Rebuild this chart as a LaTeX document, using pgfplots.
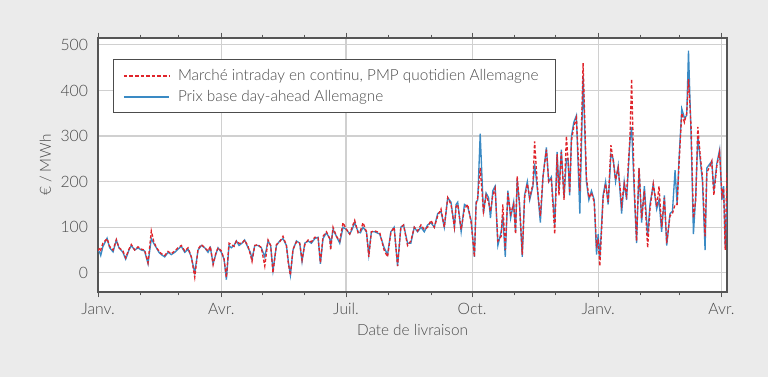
\documentclass[border=0pt]{standalone}
\usepackage{pgfplots}
\usepackage{pgfplotstable}
\pgfplotsset{compat=1.18}
\usepackage{fontspec}
\setmainfont{Lato}[UprightFont={* Light}]
\definecolor{bgcol}{HTML}{EBEBEB}
\definecolor{txtcol}{HTML}{4A4A4A}
\definecolor{axcol}{HTML}{555555}
\definecolor{gridcol}{HTML}{D0D0D0}
\definecolor{dared}{HTML}{E0242B}
\definecolor{dablue}{HTML}{3A8AC4}

\pgfplotstableread{
day blue red
0 50 48
1.2 45 55
2 38 50
3.6 58 65
6.6 76 75
8.5 55 58
11 46 50
13.4 72 73
15.3 55 55
18.2 45 48
20.2 30 33
22.6 50 52
24.3 60 62
26.8 50 50
29.2 55 57
31.6 50 52
34 48 50
36.5 20 22
38.9 75 92
40.6 65 70
42.6 55 55
44.5 45 48
46.2 40 42
48.7 35 38
51.1 45 47
53.5 40 42
56 45 48
58.4 52 55
60.8 58 60
63.3 45 48
65.7 52 55
68.1 35 35
70.6 0 -10
73 50 52
75.4 60 62
77.9 55 55
80.3 45 48
82 55 58
84 20 18
85.9 40 42
87.6 55 55
90 45 48
92 30 30
93.7 -15 -10
95.6 60 65
97.3 55 62
99.3 60 58
101 70 70
102.9 60 65
105.1 65 65
107 72 72
109.5 55 58
111.2 45 40
112.4 30 25
114.4 60 60
116.8 60 62
119.2 55 55
121.7 35 15
124.1 70 72
126 60 60
127.7 5 0
130.2 60 62
132.6 70 68
135 75 80
137.5 60 60
138.9 25 20
140.4 -5 -5
142.3 50 52
144.8 70 68
147.2 65 65
148.9 25 28
150.9 65 62
153.3 70 72
155.7 65 68
158.2 75 78
160.6 78 78
162.3 20 22
164.2 75 80
166.7 88 90
169.1 75 75
169.8 60 50
171.5 95 100
174 80 80
176.4 65 70
178.8 100 110
181.3 95 95
183.7 85 85
185.4 95 100
187.3 110 115
189.8 90 88
191.5 88 92
193.4 100 110
195.9 90 90
197.6 40 35
199.5 90 90
201.9 90 92
205.6 85 88
208.8 55 50
211.3 40 35
213.7 90 88
216.1 100 100
218.6 15 15
221 100 100
223 105 105
225.9 65 60
228.3 65 70
230.8 100 100
233.2 90 92
235.7 100 105
238.1 90 95
240.5 105 100
243 110 115
245.4 100 100
247.9 130 125
250.3 135 140
252.7 100 100
255.2 165 165
257.6 155 150
260.1 100 100
261.3 150 145
262.5 155 150
265 90 95
267.4 150 140
269.8 145 150
272.3 115 110
274.7 35 35
275.9 155 150
277.1 160 165
278.9 305 230
281.3 130 135
283.2 175 170
285 165 155
286.4 120 135
288.1 180 170
289.8 190 185
291.8 60 70
294.2 90 80
295.4 125 150
297.2 35 50
299.1 180 175
301.1 120 130
303.3 155 150
304.7 90 85
305.9 205 212
307.6 150 150
309.6 35 40
311.3 170 165
313.3 200 195
315 160 165
317.4 190 195
318.6 240 288
321.1 170 170
322.8 110 125
324.7 210 210
327.2 275 270
328.9 200 200
330.8 210 205
333.3 105 85
335 265 260
336.4 180 170
338.1 270 265
340.1 165 160
341.8 250 300
343 250 245
344.2 170 175
345.5 300 290
347.2 330 320
349.1 345 340
351.6 130 180
354 430 460
356.4 200 210
358.2 160 165
360.1 180 175
362.1 160 155
363.8 40 60
365 85 70
366.2 30 15
368.6 170 165
370.4 200 195
372.3 150 155
374.3 260 280
376 250 245
377.7 200 205
379.6 235 230
382.1 130 150
384 200 195
385.7 160 170
388.2 290 300
389.4 320 425
391.3 180 190
393 65 70
394.8 230 230
396.7 110 120
398.7 190 180
401.1 80 55
402.8 150 140
405.2 195 195
407.7 140 145
409.4 160 190
411.3 90 100
413.3 170 165
415 60 65
417.4 130 125
419.2 135 130
421.1 225 150
422.6 150 150
424 250 240
426 360 350
427.9 340 330
429.6 345 350
430.9 487 425
432.8 300 320
434.5 85 120
436.2 170 160
437.7 300 320
439.4 250 260
441.1 200 210
443 50 80
444.3 230 220
446.7 240 235
447.9 245 245
449.4 180 170
451.6 240 235
453.6 270 265
455.3 160 170
456.5 190 185
457.7 60 50
459 160 220
}\pricedata

\begin{document}
\begin{tikzpicture}
\fill[bgcol] (0,0) rectangle (576pt,282.75pt);
\begin{axis}[
  at={(73.5pt,63.75pt)}, anchor=south west,
  scale only axis, width=471.75pt, height=190.5pt,
  xmin=0, xmax=459, ymin=-42, ymax=515,
  axis background/.style={fill=white},
  axis line style={axcol, line width=0.9pt},
  xtick={0,90,181,273,365,455},
  xticklabels={Janv.,Avr.,Juil.,Oct.,Janv.,Avr.},
  minor xtick={31,59,120,151,212,243,304,334,396,424},
  ytick={0,100,200,300,400,500},
  tick align=outside,
  xtick style={axcol, line width=0.7pt},
  major tick length=4pt, minor tick length=2.5pt,
  ytick style={draw=none},
  x tick label style={yshift=-1pt},
  xmajorgrids, ymajorgrids,
  major grid style={gridcol, line width=0.9pt},
  tick label style={font=\fontsize{11.8}{13}\selectfont, text=txtcol},
  label style={font=\fontsize{11.5}{13}\selectfont, text=txtcol},
  /pgf/number format/assume math mode=true,
  xlabel={Date de livraison},
  ylabel={€ / MWh},
  legend style={at={(0.0238,0.917)}, anchor=north west,
    draw=black!70, line width=1pt, fill=white,
    font=\fontsize{11.5}{13}\selectfont, text=txtcol,
    inner xsep=7pt, inner ysep=5pt, row sep=2pt,
    nodes={inner xsep=6pt}},
  legend cell align=left,
  legend image code/.code={\draw[#1] (0pt,0pt) -- (34pt,0pt);},
]
\addlegendimage{dared, line width=1.3pt, dash pattern=on 2.6pt off 1.6pt}
\addlegendentry{Marché intraday en continu, PMP quotidien Allemagne}
\addlegendimage{dablue, line width=1.3pt}
\addlegendentry{Prix base day-ahead Allemagne}
\addplot[dablue, line width=1pt, forget plot] table[x=day, y=blue] {\pricedata};
\addplot[dared, line width=1pt, dash pattern=on 2.4pt off 1.5pt, forget plot] table[x=day, y=red] {\pricedata};
\end{axis}
\end{tikzpicture}
\end{document}
